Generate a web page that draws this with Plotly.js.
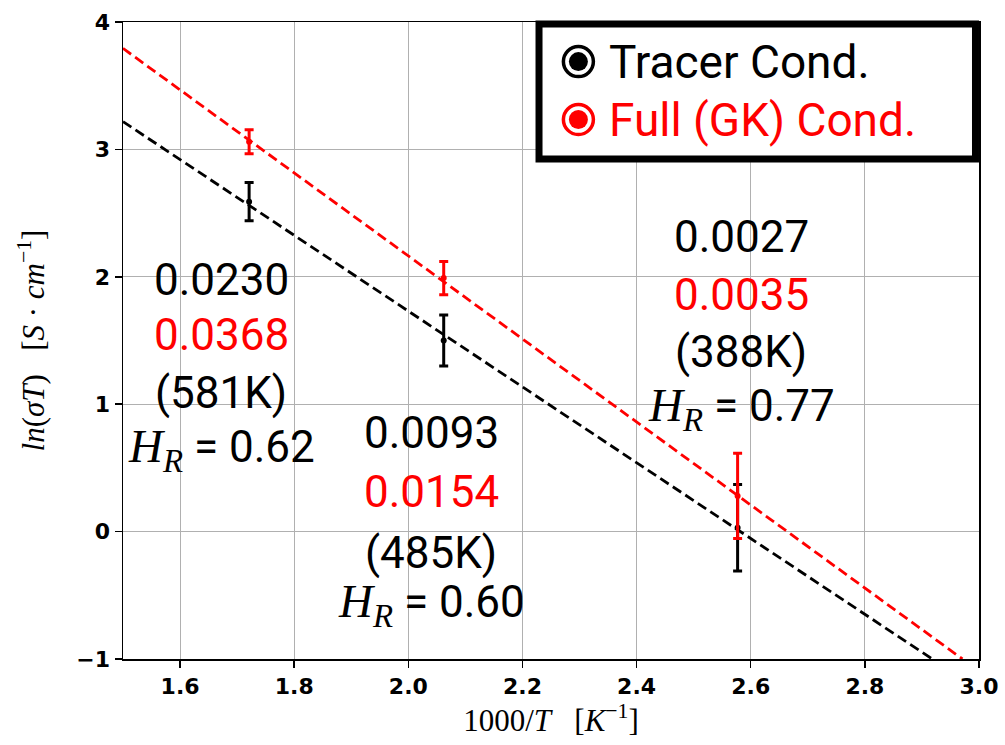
<!DOCTYPE html>
<html>
<head>
<meta charset="utf-8">
<script src="https://cdn.plot.ly/plotly-3.0.1.min.js"></script>
<style>html,body{margin:0;padding:0;background:#fff;}#chart{width:1005px;height:745px;}</style>
</head>
<body>
<div id="chart"></div>
<script>
// ---- data ----
const invT = [1.721, 2.062, 2.577];            // 1000/T  (581K, 485K, 388K)
const tracerY = [2.59, 1.50, 0.03];            // ln(sigma T), tracer
const tracerErr = [0.15, 0.20, 0.34];
const fullY = [3.06, 1.99, 0.28];              // ln(sigma T), full (GK)
const fullErr = [0.095, 0.13, 0.335];
const tracerFitX = [1.5, 2.918];
const tracerFitY = [3.218, -1.0];
const fullFitX = [1.5, 2.971];
const fullFitY = [3.793, -1.0];
const tracerSigma = ["0.0230", "0.0093", "0.0027"];
const fullSigma = ["0.0368", "0.0154", "0.0035"];
const tempLabels = ["(581K)", "(485K)", "(388K)"];
const hrValues = ["0.62", "0.60", "0.77"];
const legendNames = ["Tracer Cond.", "Full (GK) Cond."];
const xTicks = [1.6, 1.8, 2.0, 2.2, 2.4, 2.6, 2.8, 3.0];
const yTicks = [-1, 0, 1, 2, 3, 4];

const BLACK = '#000000', RED = '#ff0000';
const dashStyle = '10px,5px';

const traces = [
  {x: tracerFitX, y: tracerFitY, mode: 'lines', line: {color: BLACK, width: 2.8, dash: dashStyle}, showlegend: false, hoverinfo: 'skip'},
  {x: fullFitX, y: fullFitY, mode: 'lines', line: {color: RED, width: 2.8, dash: dashStyle}, showlegend: false, hoverinfo: 'skip'},
  {x: invT, y: tracerY, mode: 'markers', name: legendNames[0],
   marker: {color: BLACK, size: 6},
   error_y: {type: 'data', array: tracerErr, visible: true, color: BLACK, thickness: 3, width: 4.5},
   showlegend: false},
  {x: invT, y: fullY, mode: 'markers', name: legendNames[1],
   marker: {color: RED, size: 6},
   error_y: {type: 'data', array: fullErr, visible: true, color: RED, thickness: 3, width: 4.5},
   showlegend: false}
];

// annotation layout (positions in data coords)
const groupX = [1.672, 2.040, 2.583];
const groupY = [[1.975, 1.543, 1.088, 0.641], [0.774, 0.311, -0.168, -0.576], [2.312, 1.857, 1.410, 0.970]];
const textFont = {family: 'Roboto, "Open Sans", sans-serif', size: 44, color: BLACK};
const annotations = [];
for (let i = 0; i < invT.length; i++) {
  const gx = groupX[i], gy = groupY[i];
  annotations.push({x: gx, y: gy[0], xref: 'x', yref: 'y', text: tracerSigma[i], showarrow: false, font: textFont});
  annotations.push({x: gx, y: gy[1], xref: 'x', yref: 'y', text: fullSigma[i], showarrow: false, font: Object.assign({}, textFont, {color: RED})});
  annotations.push({x: gx, y: gy[2], xref: 'x', yref: 'y', text: tempLabels[i], showarrow: false, font: textFont});
  annotations.push({x: gx, y: gy[3], xref: 'x', yref: 'y',
    text: '<span style="font-family:\'Liberation Serif\',serif;font-style:italic;font-size:47px">H<sub>R</sub></span> = ' + hrValues[i],
    showarrow: false, font: textFont});
}

// legend (drawn manually)
const legX0 = 0.486, legX1 = 0.9959, legY0 = 0.785, legY1 = 0.9969;
const legRowsY = [0.9378, 0.8469];
const legMarkX = 0.532;
const legColors = [BLACK, RED];
const shapes = [
  {type: 'rect', xref: 'paper', yref: 'paper', x0: legX0, x1: legX1, y0: legY0, y1: legY1,
   line: {color: BLACK, width: 7}, fillcolor: '#ffffff', layer: 'above'}
];
for (let k = 0; k < 2; k++) {
  shapes.push({type: 'circle', xref: 'paper', yref: 'paper', xsizemode: 'pixel', ysizemode: 'pixel',
    xanchor: legMarkX, yanchor: legRowsY[k], x0: -15, x1: 15, y0: -15, y1: 15,
    line: {color: legColors[k], width: 3.5}, fillcolor: '#ffffff', layer: 'above'});
  shapes.push({type: 'circle', xref: 'paper', yref: 'paper', xsizemode: 'pixel', ysizemode: 'pixel',
    xanchor: legMarkX, yanchor: legRowsY[k], x0: -9.5, x1: 9.5, y0: -9.5, y1: 9.5,
    line: {color: legColors[k], width: 0}, fillcolor: legColors[k], layer: 'above'});
  annotations.push({xref: 'paper', yref: 'paper', x: 0.566, y: legRowsY[k], xanchor: 'left', yanchor: 'middle',
    text: legendNames[k], showarrow: false,
    font: {family: 'Roboto, "Open Sans", sans-serif', size: 46, color: legColors[k]}});
}

const tickFont = {family: '"DejaVu Sans", sans-serif', size: 22, color: BLACK, weight: 'bold'};
const layout = {
  width: 1005, height: 745,
  margin: {l: 123, r: 26, t: 22, b: 86, pad: 0},
  paper_bgcolor: '#ffffff', plot_bgcolor: '#ffffff',
  showlegend: false,
  xaxis: {
    range: [1.5, 3.0], tickvals: xTicks, ticktext: xTicks.map(v => v.toFixed(1)),
    showgrid: true, gridcolor: '#b0b0b0', gridwidth: 1,
    showline: true, linecolor: BLACK, linewidth: 1.5, mirror: true,
    ticks: 'outside', ticklen: 7, tickwidth: 1.5, tickcolor: BLACK,
    tickfont: tickFont, zeroline: false,
    title: {text: '1000/<i>T</i>&nbsp;&nbsp;&nbsp;[<i>K</i><sup>−1</sup>]', standoff: 10,
      font: {family: '"Liberation Serif", serif', size: 31, color: BLACK}}
  },
  yaxis: {
    range: [-1, 4], tickvals: yTicks, ticktext: yTicks.map(v => v < 0 ? '−' + Math.abs(v) : String(v)),
    showgrid: true, gridcolor: '#b0b0b0', gridwidth: 1,
    showline: true, linecolor: BLACK, linewidth: 1.5, mirror: true,
    ticks: 'outside', ticklen: 7, tickwidth: 1.5, tickcolor: BLACK,
    tickfont: tickFont, zeroline: false,
    title: {text: '<i>ln</i>(<i>σT</i>)&nbsp;&nbsp;&nbsp;[<i>S</i> · <i>cm</i><sup>−1</sup>]', standoff: 22,
      font: {family: '"Liberation Serif", serif', size: 31, color: BLACK}}
  },
  shapes: shapes,
  annotations: annotations
};

Plotly.newPlot('chart', traces, layout, {displayModeBar: false, staticPlot: true});
</script>
</body>
</html>
